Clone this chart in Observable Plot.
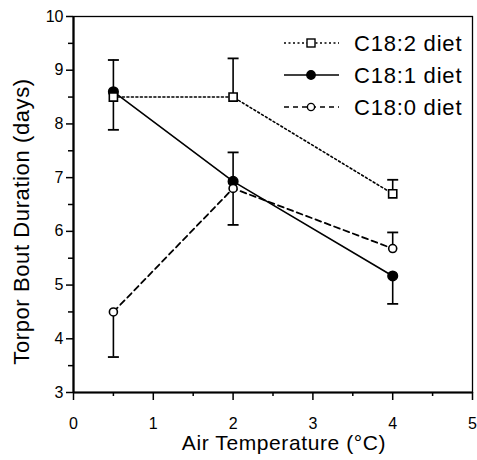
<!DOCTYPE html>
<html><head><meta charset="utf-8">
<script src="https://cdn.jsdelivr.net/npm/d3@7"></script>
<script src="https://cdn.jsdelivr.net/npm/@observablehq/plot@0.6"></script>
<style>
body{margin:0;background:#fff;}
#chart{position:relative;width:477px;height:460px;}
svg{font-family:"Liberation Sans",Arial,sans-serif;}
</style></head><body><div id="chart"></div>
<script>
const temps = [0.5, 2, 4];
const seriesNames = ["C18:2 diet", "C18:1 diet", "C18:0 diet"];
const c182 = [8.5, 8.5, 6.7];
const c181 = [8.6, 6.93, 5.17];
const c180 = [4.5, 6.8, 5.68];
const c182Err = [7.89, 9.22, 6.96];
const c181Err = [9.19, 7.47, 4.65];
const c180Err = [3.66, 6.12, 5.98];
const xTicks = [0, 1, 2, 3, 4, 5];
const yTicks = [3, 4, 5, 6, 7, 8, 9, 10];
const xMinor = [0.5, 1.5, 2.5, 3.5, 4.5];
const yMinor = [3.5, 4.5, 5.5, 6.5, 7.5, 8.5, 9.5];

const rows = [];
[[c182, c182Err, seriesNames[0]], [c181, c181Err, seriesNames[1]], [c180, c180Err, seriesNames[2]]]
  .forEach(([v, e, s]) => temps.forEach((t, i) => rows.push({series: s, x: t, y: v[i], e: e[i]})));
const S = s => rows.filter(d => d.series === s);

const capSymbol = {draw(ctx, size){ const r = Math.sqrt(size / Math.PI); ctx.moveTo(-r, 0); ctx.lineTo(r, 0); }};

const chart = Plot.plot({
  width: 477, height: 460,
  marginLeft: 73, marginRight: 5, marginTop: 16, marginBottom: 68,
  style: {fontFamily: '"Liberation Sans", Arial, sans-serif', fontSize: "16px", color: "#000", background: "#fff"},
  x: {domain: [0, 5]},
  y: {domain: [3, 10]},
  marks: [
    Plot.frame({stroke: "#000", strokeWidth: 1.3}),
    Plot.axisX({ticks: xTicks, tickSize: 8, tickPadding: 17, tickFormat: d => String(d), label: null, strokeWidth: 1.5}),
    Plot.axisX({ticks: xMinor, tickSize: 4, tickFormat: () => "", label: null, strokeWidth: 1.5}),
    Plot.axisY({ticks: yTicks, tickSize: 7, tickPadding: 3, tickFormat: d => String(d), label: null, strokeWidth: 1.5}),
    Plot.axisY({ticks: yMinor, tickSize: 5, tickFormat: () => "", label: null, strokeWidth: 1.5}),
    Plot.ruleX([0], {strokeWidth: 2.2}),
    Plot.ruleY([3], {strokeWidth: 2.2}),
    // error bars
    Plot.ruleX(rows, {x: "x", y1: "y", y2: "e", stroke: "#000", strokeWidth: 1.6}),
    Plot.dot(rows, {x: "x", y: "e", symbol: capSymbol, r: 5.5, stroke: "#000", strokeWidth: 1.8}),
    // lines
    Plot.line(S(seriesNames[1]), {x: "x", y: "y", stroke: "#000", strokeWidth: 1.6}),
    Plot.line(S(seriesNames[2]), {x: "x", y: "y", stroke: "#000", strokeWidth: 1.8, strokeDasharray: "6,4"}),
    Plot.line(S(seriesNames[0]), {x: "x", y: "y", stroke: "#000", strokeWidth: 1.6, strokeDasharray: "2,2.5"}),
    // markers
    Plot.dot(S(seriesNames[1]), {x: "x", y: "y", symbol: "circle", r: 4.8, fill: "#000", stroke: "#000"}),
    Plot.dot(S(seriesNames[2]), {x: "x", y: "y", symbol: "circle", r: 4, fill: "#fff", stroke: "#000", strokeWidth: 1.6}),
    Plot.dot(S(seriesNames[0]), {x: "x", y: "y", symbol: "square", r: 4.6, fill: "#fff", stroke: "#000", strokeWidth: 1.6}),
    // axis titles
    Plot.text(["Air Temperature (°C)"], {frameAnchor: "bottom", textAnchor: "middle", dx: 11, dy: 57, fontSize: 21, fill: "#000"}),
    Plot.text(["Torpor Bout Duration (days)"], {frameAnchor: "left", textAnchor: "middle", dx: -52, dy: 17, rotate: -90, fontSize: 22, fill: "#000"})
  ]
});
document.getElementById("chart").appendChild(chart);

// spacing tweaks for axis titles
d3.select(chart).selectAll("text").filter(function(){ return this.textContent === "Air Temperature (°C)" || this.textContent === "Torpor Bout Duration (days)"; })
  .attr("letter-spacing", "0.6px");

// legend
const svg = d3.select(chart);
const lg = svg.append("g").attr("font-family", '"Liberation Sans", Arial, sans-serif').attr("text-anchor", "start");
const legendStyles = [
  {name: seriesNames[0], dash: "2,2.5", marker: "square", fill: "#fff", w: 1.5},
  {name: seriesNames[1], dash: null, marker: "circle", fill: "#000", w: 1.6},
  {name: seriesNames[2], dash: "5,4", marker: "circle", fill: "#fff", w: 1.6}
];
legendStyles.forEach((s, i) => {
  const y = 43 + i * 32;
  const g = lg.append("g").attr("transform", `translate(0,${y})`);
  g.append("line").attr("x1", 284).attr("x2", 339).attr("y1", 0).attr("y2", 0)
    .attr("stroke", "#000").attr("stroke-width", s.w).attr("stroke-dasharray", s.dash);
  if (s.marker === "square") {
    g.append("rect").attr("x", 307).attr("y", -4).attr("width", 8).attr("height", 8)
      .attr("fill", "#fff").attr("stroke", "#000").attr("stroke-width", 1.4);
  } else {
    g.append("circle").attr("cx", 311).attr("cy", 0).attr("r", s.fill === "#000" ? 4.2 : 3.6)
      .attr("fill", s.fill).attr("stroke", "#000").attr("stroke-width", 1.4);
  }
  g.append("text").attr("x", 354).attr("y", 0).attr("dy", "0.35em").attr("font-size", 22)
    .attr("text-anchor", "start").attr("letter-spacing", "0.8px").attr("fill", "#000").text(s.name);
});
</script></body></html>
